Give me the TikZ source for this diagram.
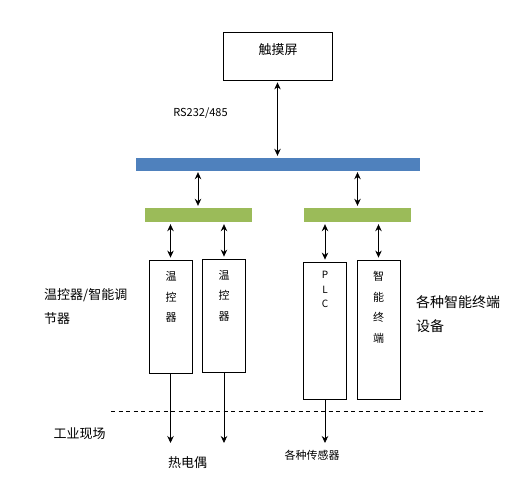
\documentclass[tikz,border=0pt]{standalone}
\usepackage{fontspec}
\setmainfont{Noto Sans CJK SC}
\usetikzlibrary{arrows.meta,positioning}
\definecolor{busblue}{RGB}{79,129,189}
\definecolor{busgreen}{RGB}{155,187,89}

\begin{document}
\begin{tikzpicture}[x=1pt,y=-1pt,>={Stealth[length=7pt,width=6.5pt]},
  box/.style={draw,line width=0.8pt,minimum width=43pt,inner sep=0pt},
  bar/.style={inner sep=0pt,minimum height=14pt},
  vtext/.style={align=center,inner sep=0pt,font=\fontsize{11}{20.5}\selectfont},
  lbl/.style={align=left,inner sep=0pt,font=\fontsize{13}{23.5}\selectfont},
  link/.style={<->,line width=0.8pt,shorten <=2pt,shorten >=2pt},
  down/.style={->,line width=0.8pt}]
  \useasboundingbox (0,0) rectangle (517,489);

  % top
  \node[box,minimum width=109pt,minimum height=48pt] (touch) at (277.5,56) {};
  \node[lbl] (touchtxt) at (278,50) {触摸屏};
  \node[lbl,font=\fontsize{11}{13}\selectfont] (rs) at (200.5,113) {RS232/485};

  % bus bars
  \node[bar,fill=busblue,minimum width=284pt,minimum height=13pt] (bus) at (278,164.5) {};
  \node[bar,fill=busgreen,minimum width=107pt] (gl) at (198,215) {};
  \node[bar,fill=busgreen,minimum width=107pt] (gr) at (357.5,215) {};

  % devices
  \node[box,minimum height=113pt] (t1) at (170.5,316.5) {};
  \node[box,minimum height=113pt] (t2) at (224,315.5) {};
  \node[box,minimum height=137pt] (plc) at (325,330.5) {};
  \node[box,minimum height=139pt] (term) at (378.5,329.5) {};
  \node[vtext] (t1txt) at (171,297) {温\\控\\器};
  \node[vtext] (t2txt) at (224,295.5) {温\\控\\器};
  \node[vtext,font=\fontsize{10}{14.5}\selectfont] (plctxt) at (325,289.5) {P\\L\\C};
  \node[vtext] (termtxt) at (378.5,307.5) {智\\能\\终\\端};

  % links
  \draw[link] (touch.south) -- (touch.south |- bus.north);
  \draw[link,shorten <=1pt] (gl.north |- bus.south) -- (gl.north);
  \draw[link,shorten <=1pt] (gr.north |- bus.south) -- (gr.north);
  \draw[link] (t1.north |- gl.south) -- (t1.north);
  \draw[link] (t2.north |- gl.south) -- (t2.north);
  \draw[link] (plc.north |- gr.south) -- (plc.north);
  \draw[link] (term.north |- gr.south) -- (term.north);

  % field side
  \draw[dashed,dash pattern=on 4pt off 3.5pt,line width=0.7pt] (111,411) -- (485,411);
  \coordinate (e1) at (170.5,443);
  \coordinate (e2) at (224,443);
  \coordinate (e3) at (325,443);
  \draw[down] (t1.south) -- (e1);
  \draw[down] (t2.south) -- (e2);
  \draw[down] (plc.south) -- (e3);

  % labels
  \node[lbl,anchor=west] (ctrl) at (44,306.5) {温控器/智能调\\节器};
  \node[lbl,anchor=west,font=\fontsize{14}{24}\selectfont] (smart) at (416,314) {各种智能终端\\设备};
  \node[lbl] (field) at (79.5,434) {工业现场};
  \node[lbl] (tc) at (187.5,463) {热电偶};
  \node[lbl,font=\fontsize{11}{13}\selectfont] (sensor) at (312,455) {各种传感器};
\end{tikzpicture}
\end{document}
